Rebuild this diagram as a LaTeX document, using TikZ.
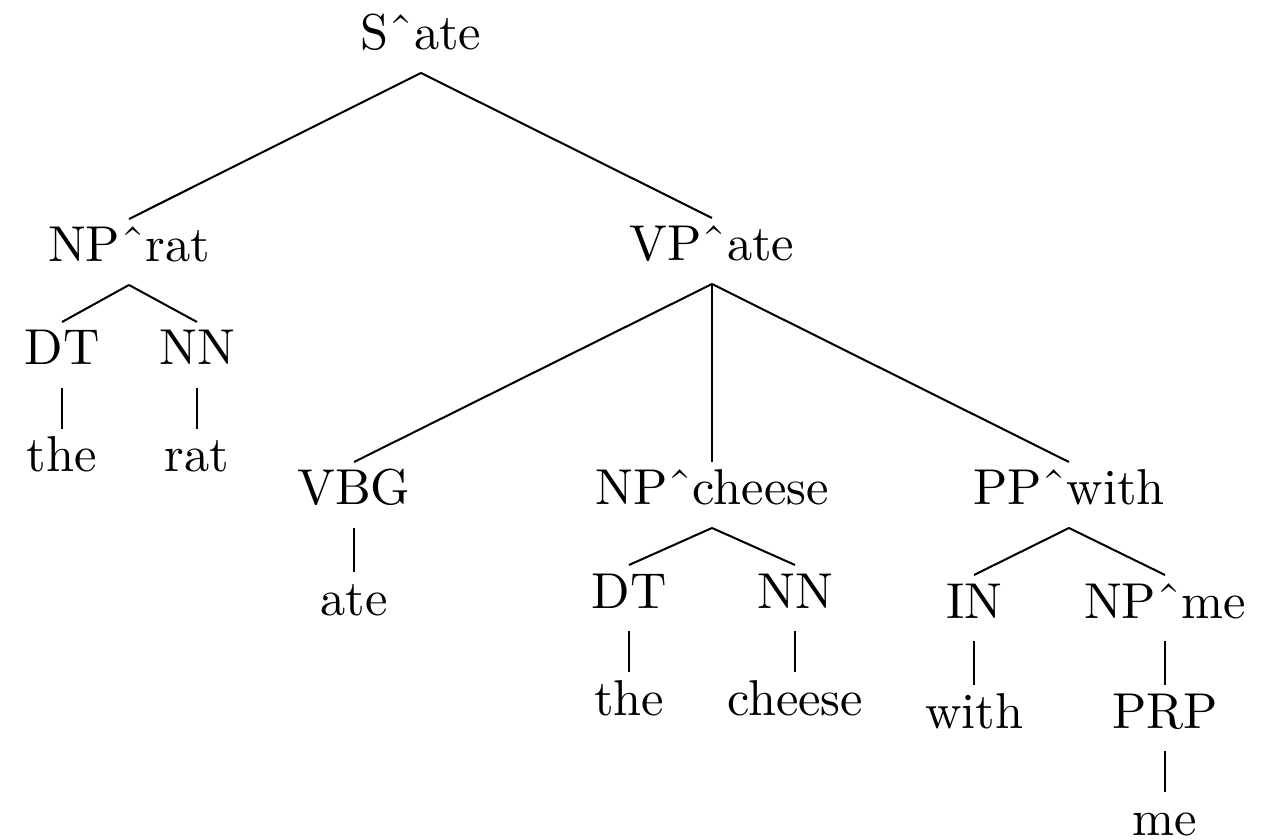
\documentclass[tikz,border=0pt]{standalone}
\newcommand{\hd}{\symbol{"02C6}}
\begin{document}
\begin{tikzpicture}[
  x=0.19841pt, y=-0.19841pt,
  lbl/.style={anchor=base, inner sep=0pt, outer sep=0pt,
              text height=8.53pt, text depth=4.56pt, font=\fontsize{10pt}{12pt}\selectfont},
  branch/.style={line width=0.4pt}
]
\useasboundingbox (0,0) rectangle (1269,840);

% root
\node[lbl] (s) at (421,50) {S\hd ate};

% subject noun phrase
\node[lbl] (nprat) at (129,262) {NP\hd rat};
\node[lbl] (dta) at (62,365) {DT};
\node[lbl] (nna) at (197,365) {NN};
\node[lbl] (thea) at (62,472) {the};
\node[lbl] (rat) at (197,472) {rat};

% verb phrase
\node[lbl] (vp) at (712,261) {VP\hd ate};
\node[lbl] (vbg) at (354,505) {VBG};
\node[lbl] (ate) at (354,615) {ate};

\node[lbl] (npch) at (712,505) {NP\hd cheese};
\node[lbl] (dtb) at (629,608) {DT};
\node[lbl] (nnb) at (795,608) {NN};
\node[lbl] (theb) at (629,715) {the};
\node[lbl] (cheese) at (795,715) {cheese};

\node[lbl] (pp) at (1069,505) {PP\hd with};
\node[lbl] (in) at (974,618) {IN};
\node[lbl] (npme) at (1165,618) {NP\hd me};
\node[lbl] (with) at (974,728) {with};
\node[lbl] (prp) at (1165,728) {PRP};
\node[lbl] (me) at (1165,835) {me};

% branches
\draw[branch] (s.south) -- (nprat.north);
\draw[branch] (s.south) -- (vp.north);
\draw[branch] (nprat.south) -- (dta.north);
\draw[branch] (nprat.south) -- (nna.north);
\draw[branch] (dta.south) -- (thea.north);
\draw[branch] (nna.south) -- (rat.north);
\draw[branch] (vp.south) -- (vbg.north);
\draw[branch] (vp.south) -- (npch.north);
\draw[branch] (vp.south) -- (pp.north);
\draw[branch] (vbg.south) -- (ate.north);
\draw[branch] (npch.south) -- (dtb.north);
\draw[branch] (npch.south) -- (nnb.north);
\draw[branch] (dtb.south) -- (theb.north);
\draw[branch] (nnb.south) -- (cheese.north);
\draw[branch] (pp.south) -- (in.north);
\draw[branch] (pp.south) -- (npme.north);
\draw[branch] (in.south) -- (with.north);
\draw[branch] (npme.south) -- (prp.north);
\draw[branch] (prp.south) -- (me.north);
\end{tikzpicture}
\end{document}
